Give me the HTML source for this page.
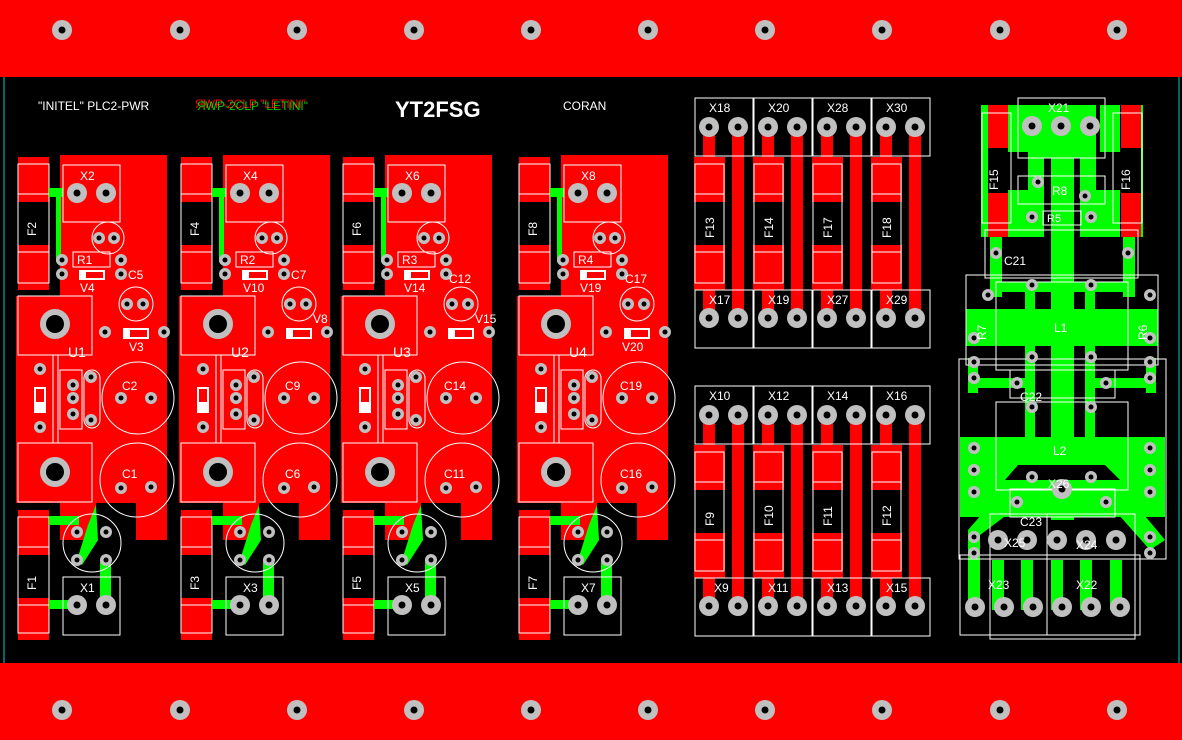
<!DOCTYPE html>
<html><head><meta charset="utf-8"><style>
html,body{margin:0;padding:0;background:#000;}
svg{display:block;font-family:"Liberation Sans",sans-serif;}
</style></head><body>
<svg width="1182" height="740" viewBox="0 0 1182 740" xmlns="http://www.w3.org/2000/svg">
<defs>
<g id="hole"><circle r="10" fill="#c0c0c0"/><circle r="3.5" fill="#000"/></g>
<g id="pad"><circle r="6" fill="#c0c0c0"/><circle r="2.5" fill="#000"/></g>
<g id="mod">
  <rect x="60" y="155" width="107" height="385" fill="#f00"/>
  <rect x="16" y="296" width="50" height="207" fill="#f00"/>
  <rect x="96" y="503" width="40" height="37" fill="#000"/>
  <!-- fuses -->
  <rect x="18" y="157" width="31" height="45" fill="#f00"/><rect x="18" y="245" width="31" height="45" fill="#f00"/>
  <rect x="18" y="164" width="31" height="119" fill="none" stroke="#fff"/>
  <line x1="18" y1="194" x2="49" y2="194" stroke="#fff"/><line x1="18" y1="252" x2="49" y2="252" stroke="#fff"/>
  <rect x="18" y="510" width="31" height="45" fill="#f00"/><rect x="18" y="598" width="31" height="42" fill="#f00"/>
  <rect x="18" y="517" width="31" height="116" fill="none" stroke="#fff"/>
  <line x1="18" y1="547" x2="49" y2="547" stroke="#fff"/><line x1="18" y1="605" x2="49" y2="605" stroke="#fff"/>
  <!-- green traces -->
  <rect x="49" y="188" width="14" height="9" fill="#0f0"/>
  <rect x="56" y="190" width="5" height="72" fill="#0f0"/>
  <rect x="49" y="516" width="30" height="9" fill="#0f0"/>
  <rect x="49" y="600" width="24" height="9" fill="#0f0"/>
  <polygon points="88,525 96,505 98,540 82,565 77,560" fill="#0f0"/>
  <rect x="100" y="560" width="11" height="45" fill="#0f0"/>
  <!-- X top / bottom -->
  <rect x="63" y="165" width="57" height="57" fill="none" stroke="#fff"/>
  <use href="#hole" x="77" y="193"/><use href="#hole" x="106" y="193"/>
  <rect x="63" y="577" width="57" height="58" fill="none" stroke="#fff"/>
  <use href="#hole" x="77" y="605"/><use href="#hole" x="106" y="605"/>
  <circle cx="108" cy="238" r="16" fill="none" stroke="#fff"/>
  <use href="#pad" x="99" y="238"/><use href="#pad" x="114" y="238"/>
  <rect x="73" y="252" width="37" height="15" fill="none" stroke="#fff"/>
  <rect x="79" y="270" width="26" height="10" fill="#fff"/><rect x="86" y="272" width="17" height="6" fill="#f00"/>
  <use href="#pad" x="62" y="260"/><use href="#pad" x="62" y="274"/>
  <use href="#pad" x="121" y="260"/><use href="#pad" x="121" y="274"/>
  <circle cx="136" cy="304" r="17" fill="none" stroke="#fff"/>
  <use href="#pad" x="127" y="304"/><use href="#pad" x="143" y="304"/>
  <!-- U -->
  <rect x="18" y="296" width="74" height="59" fill="none" stroke="#fff"/>
  <rect x="18" y="443" width="74" height="59" fill="none" stroke="#fff"/>
  <line x1="53" y1="355" x2="53" y2="443" stroke="#fff"/><line x1="58" y1="355" x2="58" y2="443" stroke="#fff"/>
  <circle cx="55" cy="324" r="15" fill="#c0c0c0"/><circle cx="55" cy="324" r="9" fill="#000"/>
  <circle cx="55" cy="472" r="15" fill="#c0c0c0"/><circle cx="55" cy="472" r="9" fill="#000"/>
  <rect x="123" y="328" width="26" height="11" fill="#fff"/><rect x="130" y="330" width="17" height="7" fill="#f00"/>
  <use href="#pad" x="105" y="332"/><use href="#pad" x="164" y="332"/>
  <rect x="34" y="387" width="12" height="26" fill="#fff"/><rect x="36" y="389" width="8" height="13" fill="#f00"/>
  <use href="#pad" x="40" y="369"/><use href="#pad" x="40" y="427"/>
  <rect x="60" y="370" width="22" height="59" fill="none" stroke="#fff"/>
  <use href="#pad" x="73" y="385"/><use href="#pad" x="73" y="398"/><use href="#pad" x="73" y="414"/>
  <rect x="84" y="370" width="16" height="58" rx="8" fill="none" stroke="#fff"/>
  <use href="#pad" x="91" y="377"/><use href="#pad" x="91" y="420"/>
  <circle cx="138" cy="398" r="36" fill="none" stroke="#fff"/>
  <use href="#pad" x="121" y="398"/><use href="#pad" x="151" y="398"/>
  <circle cx="137" cy="480" r="37" fill="none" stroke="#fff"/>
  <use href="#pad" x="121" y="488"/><use href="#pad" x="151" y="487"/>
  <circle cx="92" cy="543" r="29" fill="none" stroke="#fff"/>
  <use href="#pad" x="77" y="532"/><use href="#pad" x="106" y="532"/><use href="#pad" x="77" y="560"/><use href="#pad" x="106" y="560"/>
</g>
<g id="col">
  <rect x="694" y="157" width="31" height="45" fill="#f00"/><rect x="694" y="245" width="31" height="45" fill="#f00"/>
  <rect x="695" y="164" width="29" height="119" fill="none" stroke="#fff"/>
  <line x1="695" y1="194" x2="724" y2="194" stroke="#fff"/><line x1="695" y1="252" x2="724" y2="252" stroke="#fff"/>
  <rect x="703" y="127" width="12" height="30" fill="#f00"/><rect x="703" y="290" width="12" height="28" fill="#f00"/>
  <rect x="732" y="127" width="12" height="190" fill="#f00"/>
  <rect x="695" y="98" width="58" height="58" fill="none" stroke="#fff"/>
  <rect x="695" y="290" width="58" height="58" fill="none" stroke="#fff"/>
  <use href="#hole" x="709" y="127"/><use href="#hole" x="738" y="127"/>
  <use href="#hole" x="709" y="318"/><use href="#hole" x="738" y="318"/>
</g>
</defs>
<rect width="1182" height="740" fill="#000"/>
<rect x="0" y="0" width="1182" height="77" fill="#f00"/>
<rect x="0" y="663" width="1182" height="77" fill="#f00"/>
<line x1="4" y1="77" x2="4" y2="663" stroke="#0cc"/>
<line x1="1179" y1="77" x2="1179" y2="663" stroke="#0cc"/>
<g>
<use href="#hole" x="62" y="30"/><use href="#hole" x="180" y="30"/><use href="#hole" x="297" y="30"/><use href="#hole" x="414" y="30"/><use href="#hole" x="531" y="30"/><use href="#hole" x="648" y="30"/><use href="#hole" x="765" y="30"/><use href="#hole" x="882" y="30"/><use href="#hole" x="1000" y="30"/><use href="#hole" x="1117" y="30"/>
<use href="#hole" x="62" y="710"/><use href="#hole" x="180" y="710"/><use href="#hole" x="297" y="710"/><use href="#hole" x="414" y="710"/><use href="#hole" x="531" y="710"/><use href="#hole" x="648" y="710"/><use href="#hole" x="765" y="710"/><use href="#hole" x="882" y="710"/><use href="#hole" x="1000" y="710"/><use href="#hole" x="1117" y="710"/>
</g>
<text x="38" y="110" fill="#fff" font-size="12">"INITEL" PLC2-PWR</text>
<text x="195" y="108" fill="#f00" font-size="12">ЯWP-2CLP "LETINI"</text>
<text x="197" y="110" fill="#0f0" font-size="12" opacity="0.8">ЯWP-2CLP "LETINI"</text>
<text x="395" y="117" fill="#fff" font-size="22" font-weight="bold">YT2FSG</text>
<text x="563" y="110" fill="#fff" font-size="12">CORAN</text>

<use href="#mod"/>
<use href="#mod" x="163"/>
<use href="#mod" x="325"/>
<use href="#mod" x="501"/>

<g fill="#fff" font-size="12">
<text x="80" y="180">X2</text><text x="243" y="180">X4</text><text x="405" y="180">X6</text><text x="581" y="180">X8</text>
<text x="80" y="592">X1</text><text x="243" y="592">X3</text><text x="405" y="592">X5</text><text x="581" y="592">X7</text>
<text x="77" y="264">R1</text><text x="240" y="264">R2</text><text x="402" y="264">R3</text><text x="578" y="264">R4</text>
<text x="68" y="357" font-size="14">U1</text><text x="231" y="357" font-size="14">U2</text><text x="393" y="357" font-size="14">U3</text><text x="569" y="357" font-size="14">U4</text>
<text x="128" y="279">C5</text><text x="291" y="279">C7</text><text x="449" y="283">C12</text><text x="625" y="283">C17</text>
<text x="80" y="292">V4</text><text x="243" y="292">V10</text><text x="404" y="292">V14</text><text x="580" y="292">V19</text>
<text x="129" y="351">V3</text><text x="313" y="323">V8</text><text x="475" y="323">V15</text><text x="622" y="351">V20</text>
<text x="122" y="390">C2</text><text x="285" y="390">C9</text><text x="444" y="390">C14</text><text x="620" y="390">C19</text>
<text x="122" y="478">C1</text><text x="285" y="478">C6</text><text x="444" y="478">C11</text><text x="620" y="478">C16</text>
<text transform="translate(36,236) rotate(-90)">F2</text><text transform="translate(199,236) rotate(-90)">F4</text><text transform="translate(361,236) rotate(-90)">F6</text><text transform="translate(537,236) rotate(-90)">F8</text>
<text transform="translate(36,590) rotate(-90)">F1</text><text transform="translate(199,590) rotate(-90)">F3</text><text transform="translate(361,590) rotate(-90)">F5</text><text transform="translate(537,590) rotate(-90)">F7</text>
</g>

<use href="#col"/><use href="#col" x="59"/><use href="#col" x="118"/><use href="#col" x="177"/>
<use href="#col" y="288"/><use href="#col" x="59" y="288"/><use href="#col" x="118" y="288"/><use href="#col" x="177" y="288"/>
<g fill="#fff" font-size="12">
<text x="709" y="112">X18</text><text x="768" y="112">X20</text><text x="827" y="112">X28</text><text x="886" y="112">X30</text>
<text x="709" y="304">X17</text><text x="768" y="304">X19</text><text x="827" y="304">X27</text><text x="886" y="304">X29</text>
<text x="709" y="400">X10</text><text x="768" y="400">X12</text><text x="827" y="400">X14</text><text x="886" y="400">X16</text>
<text x="714" y="592">X9</text><text x="768" y="592">X11</text><text x="827" y="592">X13</text><text x="886" y="592">X15</text>
<text transform="translate(714,238) rotate(-90)">F13</text><text transform="translate(773,238) rotate(-90)">F14</text><text transform="translate(832,238) rotate(-90)">F17</text><text transform="translate(891,238) rotate(-90)">F18</text>
<text transform="translate(714,526) rotate(-90)">F9</text><text transform="translate(773,526) rotate(-90)">F10</text><text transform="translate(832,526) rotate(-90)">F11</text><text transform="translate(891,526) rotate(-90)">F12</text>
</g>

<!-- right section -->
<g>
<rect x="981" y="105" width="63" height="132" fill="#0f0"/>
<rect x="1080" y="105" width="63" height="132" fill="#0f0"/>
<rect x="1044" y="105" width="36" height="53" fill="#0f0"/>
<rect x="988" y="105" width="40" height="132" fill="#000"/>
<rect x="1096" y="105" width="40" height="132" fill="#000"/>
<rect x="988" y="105" width="20" height="132" fill="#f00"/>
<rect x="1121" y="105" width="20" height="132" fill="#f00"/>
<rect x="1008" y="105" width="20" height="47" fill="#0f0"/><rect x="1100" y="105" width="20" height="47" fill="#0f0"/>
<rect x="988" y="148" width="20" height="45" fill="#000"/><rect x="1121" y="148" width="20" height="45" fill="#000"/>
<rect x="1008" y="190" width="30" height="47" fill="#0f0"/><rect x="1085" y="190" width="35" height="47" fill="#0f0"/>
<rect x="1051" y="150" width="23" height="370" fill="#0f0"/>
<rect x="990" y="237" width="12" height="60" fill="#0f0"/><rect x="1123" y="237" width="12" height="60" fill="#0f0"/>
<rect x="966" y="309" width="192" height="37" fill="#0f0"/>
<rect x="1025" y="282" width="10" height="222" fill="#0f0"/><rect x="1085" y="282" width="10" height="222" fill="#0f0"/>
<rect x="995" y="282" width="130" height="10" fill="#0f0"/>
<rect x="968" y="358" width="10" height="35" fill="#0f0"/><rect x="1146" y="358" width="10" height="35" fill="#0f0"/>
<rect x="968" y="378" width="60" height="10" fill="#0f0"/><rect x="1095" y="378" width="60" height="10" fill="#0f0"/>
<rect x="960" y="437" width="205" height="80" fill="#0f0"/>
<polygon points="1018,465 1105,465 1140,510 1165,540 1150,550 1110,505 1020,505 980,535 975,580 968,580 968,530 990,505" fill="#0f0"/>
<polygon points="1018,465 1105,465 1120,480 1005,480" fill="#000"/>
<rect x="992" y="560" width="12" height="50" fill="#0f0"/><rect x="1021" y="560" width="12" height="50" fill="#0f0"/>
<rect x="1051" y="560" width="12" height="50" fill="#0f0"/><rect x="1080" y="560" width="12" height="50" fill="#0f0"/><rect x="1110" y="560" width="12" height="50" fill="#0f0"/>
<rect x="968" y="530" width="12" height="80" fill="#0f0"/>
<g fill="none" stroke="#fff">
<rect x="1018" y="98" width="87" height="60"/><rect x="982" y="113" width="29" height="110"/><rect x="1113" y="113" width="29" height="110"/>
<rect x="1018" y="176" width="87" height="28"/><rect x="1043" y="211" width="38" height="14"/>
<rect x="985" y="230" width="153" height="48"/><rect x="966" y="275" width="192" height="90"/><rect x="996" y="282" width="132" height="88"/>
<rect x="959" y="359" width="207" height="200"/><rect x="1010" y="370" width="105" height="28"/><rect x="996" y="402" width="132" height="88"/>
<rect x="1010" y="489" width="105" height="28"/><rect x="990" y="514" width="145" height="125"/><rect x="960" y="555" width="180" height="80"/>
<line x1="1047" y1="514" x2="1047" y2="635"/>
</g>
<use href="#hole" x="1032" y="126"/><use href="#hole" x="1061" y="126"/><use href="#hole" x="1090" y="126"/>
<use href="#pad" x="1038" y="182"/><use href="#pad" x="1085" y="196"/><use href="#pad" x="1032" y="217"/><use href="#pad" x="1091" y="217"/>
<use href="#pad" x="996" y="253"/><use href="#pad" x="1128" y="253"/>
<use href="#pad" x="988" y="295"/><use href="#pad" x="1032" y="285"/><use href="#pad" x="1091" y="285"/><use href="#pad" x="1150" y="295"/>
<use href="#pad" x="974" y="338"/><use href="#pad" x="1150" y="338"/><use href="#pad" x="1032" y="357"/><use href="#pad" x="1091" y="357"/>
<use href="#pad" x="974" y="362"/><use href="#pad" x="974" y="378"/><use href="#pad" x="1150" y="362"/><use href="#pad" x="1150" y="378"/>
<use href="#pad" x="1017" y="383"/><use href="#pad" x="1106" y="383"/><use href="#pad" x="1032" y="407"/><use href="#pad" x="1091" y="407"/>
<use href="#pad" x="974" y="448"/><use href="#pad" x="974" y="470"/><use href="#pad" x="974" y="492"/>
<use href="#pad" x="1150" y="448"/><use href="#pad" x="1150" y="470"/><use href="#pad" x="1150" y="492"/>
<use href="#pad" x="1032" y="477"/><use href="#pad" x="1091" y="477"/><use href="#hole" x="1062" y="489"/>
<use href="#pad" x="1017" y="502"/><use href="#pad" x="1106" y="502"/>
<use href="#pad" x="974" y="537"/><use href="#pad" x="974" y="553"/><use href="#pad" x="1150" y="537"/><use href="#pad" x="1150" y="553"/>
<use href="#hole" x="998" y="540"/><use href="#hole" x="1027" y="540"/><use href="#hole" x="1057" y="540"/><use href="#hole" x="1086" y="540"/><use href="#hole" x="1116" y="540"/>
<use href="#hole" x="975" y="607"/><use href="#hole" x="1004" y="607"/><use href="#hole" x="1033" y="607"/><use href="#hole" x="1062" y="607"/><use href="#hole" x="1091" y="607"/><use href="#hole" x="1120" y="607"/>
<g fill="#fff" font-size="12">
<text x="1048" y="112">X21</text><text transform="translate(998,190) rotate(-90)">F15</text><text transform="translate(1130,190) rotate(-90)">F16</text>
<text x="1052" y="195">R8</text><text x="1047" y="222" font-size="11">R5</text><text x="1004" y="265">C21</text>
<text x="1054" y="332">L1</text><text x="1053" y="455">L2</text><text x="1020" y="401">C22</text><text x="1048" y="488">X26</text>
<text x="1020" y="526">C23</text><text x="1004" y="547">X25</text><text x="1076" y="549">X24</text><text x="988" y="589">X23</text><text x="1076" y="589">X22</text>
<text transform="translate(986,340) rotate(-90)">R7</text><text transform="translate(1147,340) rotate(-90)">R6</text>
</g>
</g>
</svg>
</body></html>
